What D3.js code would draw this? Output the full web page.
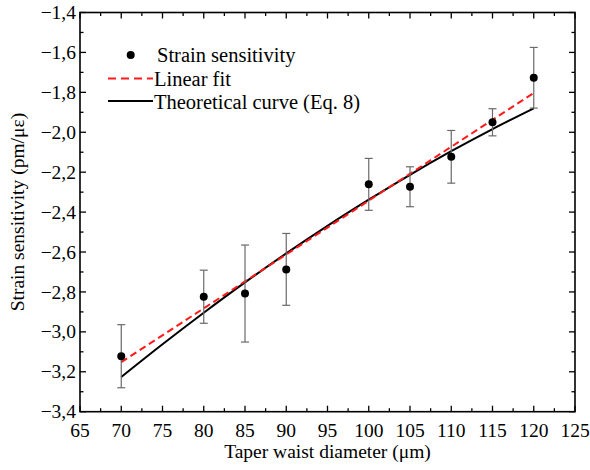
<!DOCTYPE html>
<html>
<head>
<meta charset="utf-8">
<script src="https://cdn.jsdelivr.net/npm/d3@7/dist/d3.min.js"></script>
<style>
  body { margin: 0; background: #fff; }
  svg { display: block; }
  text { font-family: "Liberation Serif", "Times New Roman", serif; fill: #000; }
</style>
</head>
<body>
<div id="chart"></div>
<script>
// Strain sensitivity vs taper waist diameter

// measured points + symmetric error bars
const diameters = [70, 80, 85, 90, 100, 105, 110, 115, 120];
const sensitivity = [-3.122, -2.824, -2.808, -2.687, -2.261, -2.273, -2.123, -1.950, -1.727];
const errors = [0.158, 0.133, 0.243, 0.180, 0.130, 0.100, 0.132, 0.068, 0.152];

// linear fit (end points)
const fitX = [70, 120];
const fitY = [-3.152, -1.803];

// theoretical curve (Eq. 8)
const theoryX = [70, 75, 80, 85, 90, 95, 100, 105, 110, 115, 120];
const theoryY = [-3.226, -3.062, -2.904, -2.752, -2.607, -2.469, -2.338, -2.213, -2.095, -1.984, -1.880];

// axis ticks
const xTicks = [65, 70, 75, 80, 85, 90, 95, 100, 105, 110, 115, 120, 125];
const yTicks = [-3.4, -3.2, -3.0, -2.8, -2.6, -2.4, -2.2, -2.0, -1.8, -1.6, -1.4];

const legendLabels = ["Strain sensitivity", "Linear fit", "Theoretical curve (Eq. 8)"];

const width = 590, height = 470;
const margin = { top: 12.5, right: 15, bottom: 58.3, left: 80 };

const svg = d3.select("#chart").append("svg")
    .attr("width", width)
    .attr("height", height);

const x = d3.scaleLinear().domain([65, 125]).range([margin.left, width - margin.right]);
const y = d3.scaleLinear().domain([-3.4, -1.4]).range([height - margin.bottom, margin.top]);

const fmt = v => d3.format(".1f")(v).replace(".", ",").replace("-", "\u2212");

// minor ticks halfway between majors
const xMinor = d3.range(67.5, 125, 5);
const yMinor = d3.range(-3.3, -1.4, 0.2);

const plot = svg.append("g");
const fontSize = "19.5px";

// ticks (all pointing inward)
const majorLen = 6, minorLen = 3.5;
const x0 = x.range()[0], x1 = x.range()[1];
const y0 = y.range()[0], y1 = y.range()[1];

function tickLines(vals, len, isX) {
    vals.forEach(v => {
        if (isX) {
            plot.append("line").attr("x1", x(v)).attr("x2", x(v)).attr("y1", y0).attr("y2", y0 - len);
            plot.append("line").attr("x1", x(v)).attr("x2", x(v)).attr("y1", y1).attr("y2", y1 + len);
        } else {
            plot.append("line").attr("y1", y(v)).attr("y2", y(v)).attr("x1", x0).attr("x2", x0 + len);
            plot.append("line").attr("y1", y(v)).attr("y2", y(v)).attr("x1", x1).attr("x2", x1 - len);
        }
    });
}
tickLines(xTicks, majorLen, true);
tickLines(xMinor, minorLen, true);
tickLines(yTicks, majorLen, false);
tickLines(yMinor, minorLen, false);
plot.selectAll("line").attr("stroke", "#000").attr("stroke-width", 1.3);

// frame
plot.append("rect")
    .attr("x", x0).attr("y", y1)
    .attr("width", x1 - x0).attr("height", y0 - y1)
    .attr("fill", "none").attr("stroke", "#000").attr("stroke-width", 1.6);

// tick labels
svg.append("g").selectAll("text")
    .data(xTicks)
    .join("text")
    .attr("x", d => x(d))
    .attr("y", y0 + 25)
    .attr("text-anchor", "middle")
    .style("font-size", fontSize)
    .text(d => d);

svg.append("g").selectAll("text")
    .data(yTicks)
    .join("text")
    .attr("x", x0 - 4)
    .attr("y", d => y(d))
    .attr("dy", "0.34em")
    .attr("text-anchor", "end")
    .style("font-size", fontSize)
    .text(d => fmt(d));

// axis titles
svg.append("text")
    .attr("x", (x0 + x1) / 2)
    .attr("y", 458)
    .attr("text-anchor", "middle")
    .style("font-size", fontSize)
    .text("Taper waist diameter (\u03bcm)");

svg.append("text")
    .attr("transform", `translate(24,${(y0 + y1) / 2}) rotate(-90)`)
    .attr("text-anchor", "middle")
    .style("font-size", fontSize)
    .text("Strain sensitivity (pm/\u03bc\u03b5)");

// lines
const line = d3.line().x(d => x(d[0])).y(d => y(d[1]));

svg.append("path")
    .datum(theoryX.map((d, i) => [d, theoryY[i]]))
    .attr("d", line.curve(d3.curveMonotoneX))
    .attr("fill", "none")
    .attr("stroke", "#000")
    .attr("stroke-width", 2);

svg.append("path")
    .datum(fitX.map((d, i) => [d, fitY[i]]))
    .attr("d", d3.line().x(d => x(d[0])).y(d => y(d[1])))
    .attr("fill", "none")
    .attr("stroke", "#ff1a1a")
    .attr("stroke-width", 2)
    .attr("stroke-dasharray", "7,4");

// error bars
const pts = diameters.map((d, i) => ({ d, v: sensitivity[i], e: errors[i] }));
const eb = svg.append("g")
    .attr("stroke", "#6a6a6a")
    .attr("stroke-width", 1.2);
const capW = 4;
pts.forEach(p => {
    eb.append("line").attr("x1", x(p.d)).attr("x2", x(p.d)).attr("y1", y(p.v - p.e)).attr("y2", y(p.v + p.e));
    eb.append("line").attr("x1", x(p.d) - capW).attr("x2", x(p.d) + capW).attr("y1", y(p.v + p.e)).attr("y2", y(p.v + p.e));
    eb.append("line").attr("x1", x(p.d) - capW).attr("x2", x(p.d) + capW).attr("y1", y(p.v - p.e)).attr("y2", y(p.v - p.e));
});

// points
svg.append("g").selectAll("circle")
    .data(pts)
    .join("circle")
    .attr("cx", d => x(d.d))
    .attr("cy", d => y(d.v))
    .attr("r", 4)
    .attr("fill", "#000");

// legend
const lg = svg.append("g");
lg.append("circle").attr("cx", 130.7).attr("cy", 55).attr("r", 4).attr("fill", "#000");
lg.append("line").attr("x1", 108).attr("x2", 153).attr("y1", 78.5).attr("y2", 78.5)
    .attr("stroke", "#ff1a1a").attr("stroke-width", 2).attr("stroke-dasharray", "8,5");
lg.append("line").attr("x1", 108).attr("x2", 153).attr("y1", 101).attr("y2", 101)
    .attr("stroke", "#000").attr("stroke-width", 2);
lg.selectAll("text")
    .data(legendLabels)
    .join("text")
    .attr("x", (d, i) => i === 0 ? 157 : 154)
    .attr("y", (d, i) => [62, 85.5, 109][i])
    .style("font-size", "20.5px")
    .text(d => d);
</script>
</body>
</html>
